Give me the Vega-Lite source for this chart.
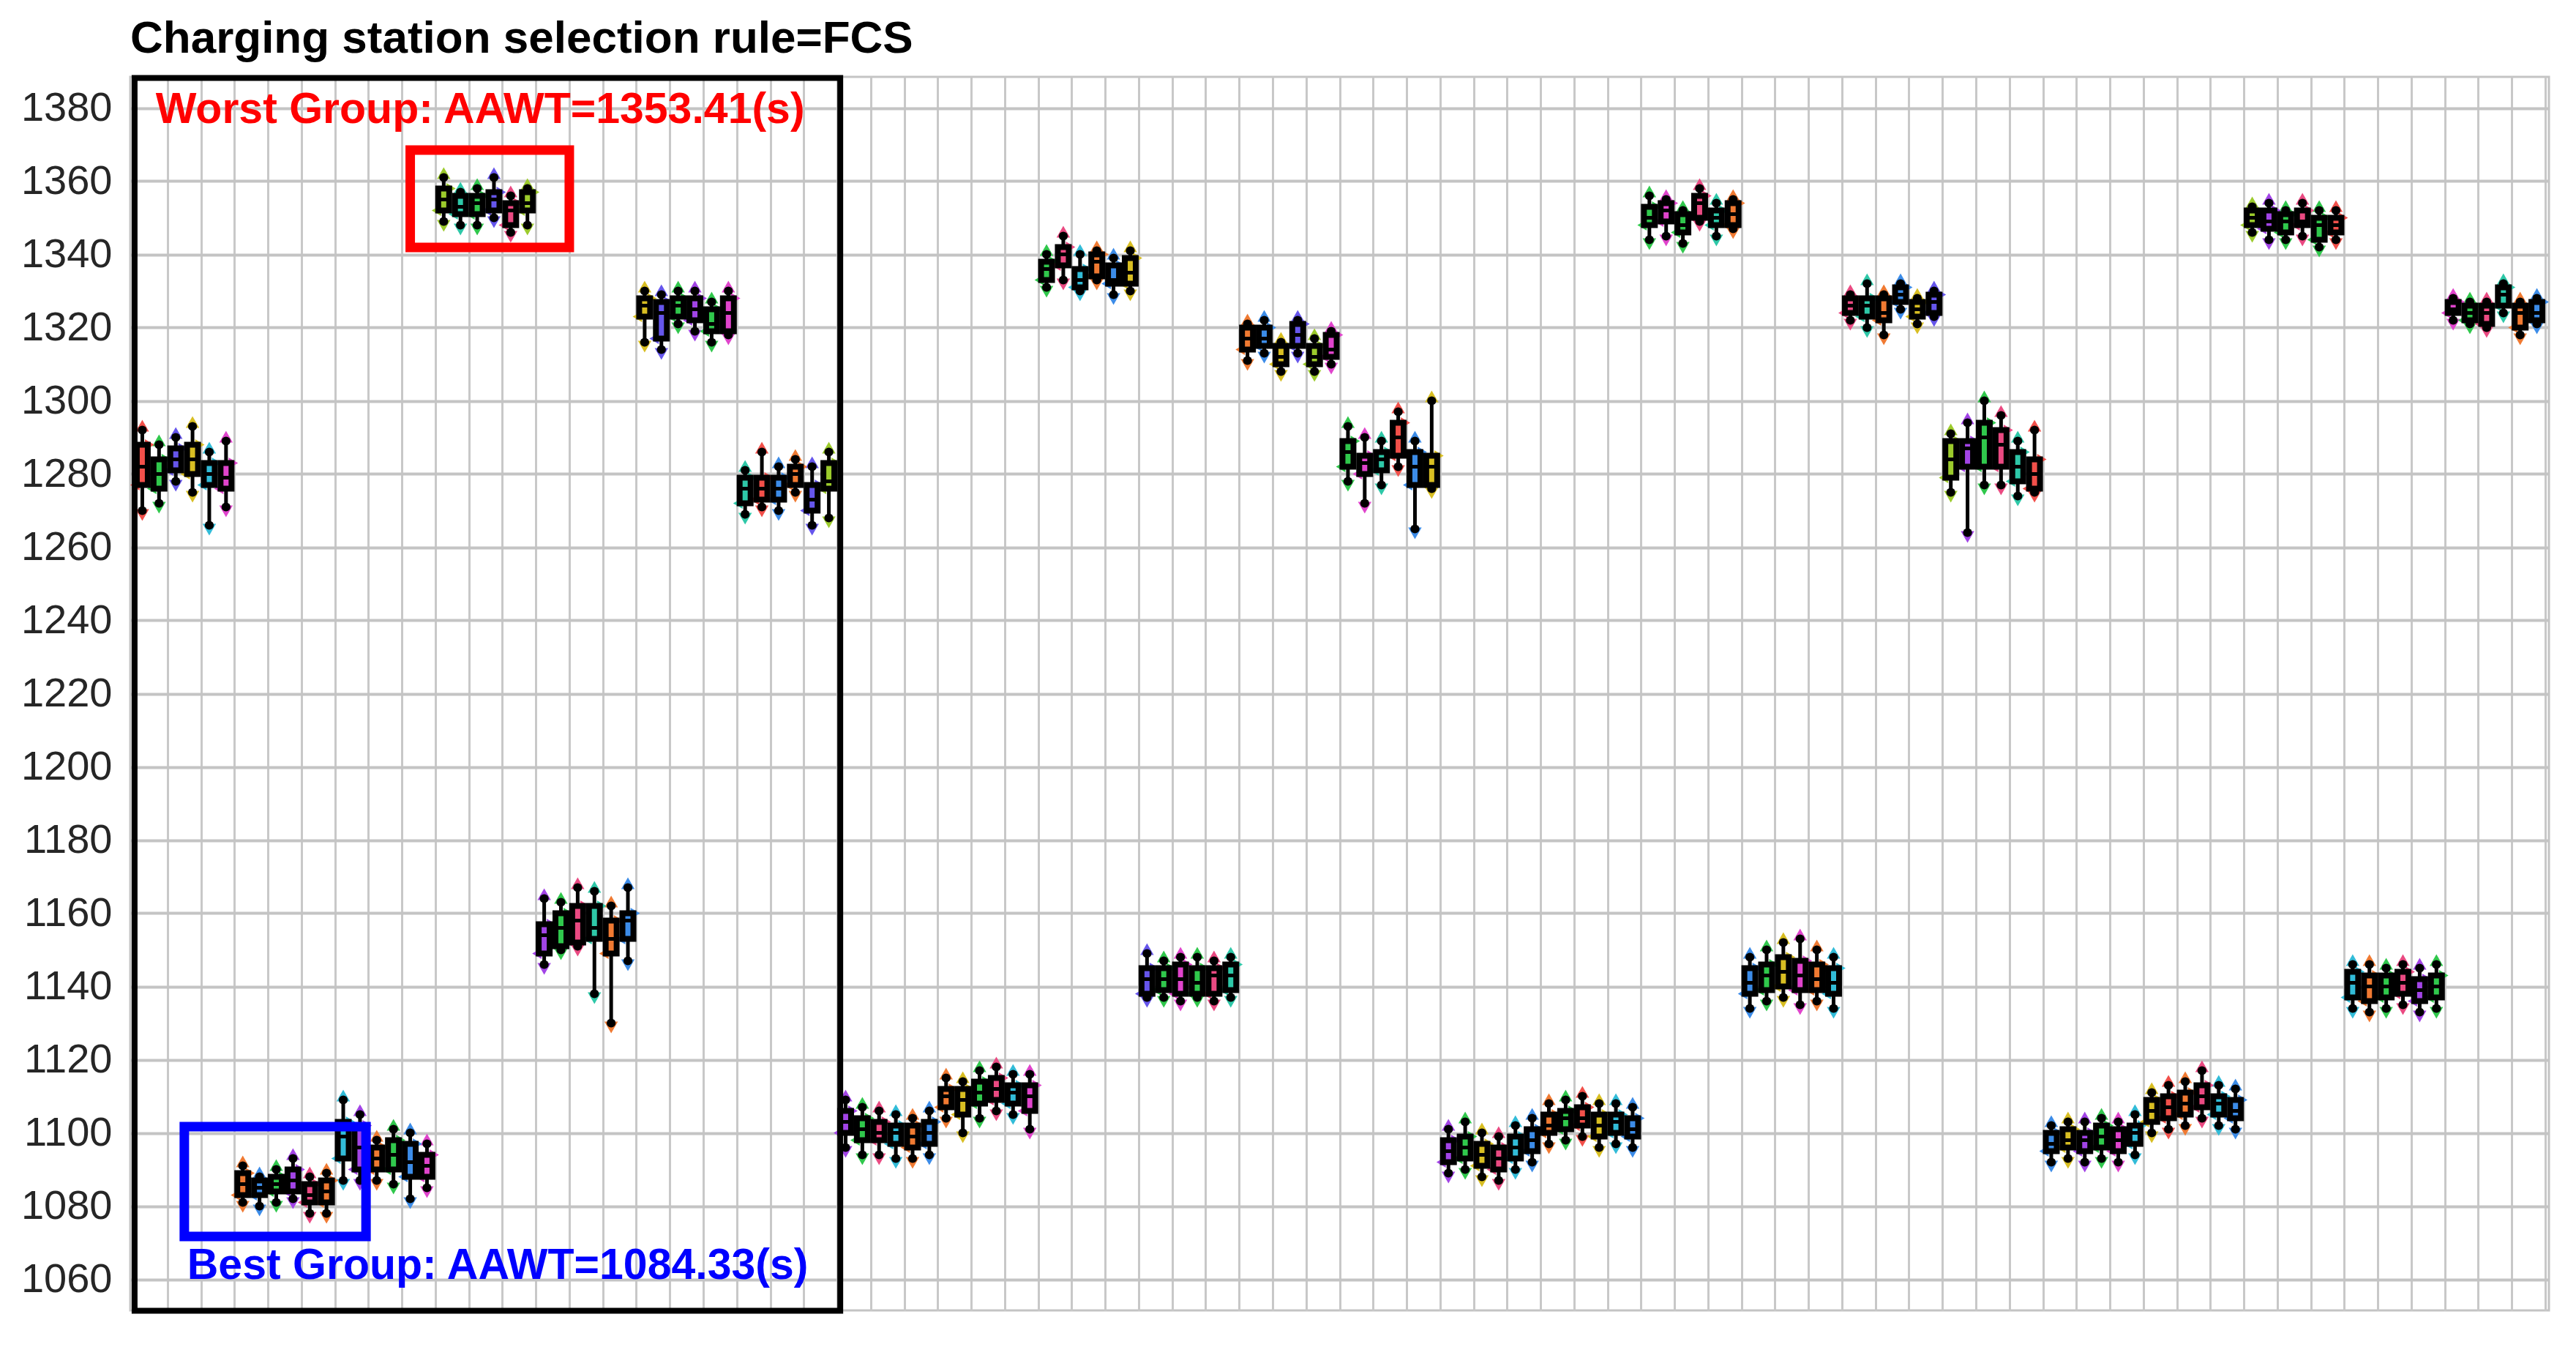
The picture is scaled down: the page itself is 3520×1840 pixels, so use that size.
{
"$schema": "https://vega.github.io/schema/vega-lite/v6.json",
"width": 3305,
"height": 1685,
"autosize": {"type": "none"},
"padding": {"left": 178, "top": 105, "right": 37, "bottom": 50},
"background": "white",
"title": {"text": "Charging station selection rule=FCS", "anchor": "start", "frame": "group", "font": "Liberation Sans", "fontSize": 62, "fontWeight": "bold", "color": "#000000", "baseline": "alphabetic", "offset": -31},
"config": {
  "view": {"stroke": "#c4c4c4", "strokeWidth": 3},
  "axisX": {"grid": true, "gridColor": "#c8c8c8", "gridWidth": 3, "labels": false, "ticks": false, "domain": false},
  "axisY": {"grid": true, "gridColor": "#c4c4c4", "gridWidth": 4, "ticks": false, "tickSize": 0, "domain": false, "labelFont": "Liberation Sans", "labelFontSize": 56, "labelColor": "#262626", "labelPadding": 25, "format": "d"}
},
"datasets": {
"boxes": [
{"col":0,"c":"red","lo":1270,"q1":1277,"md":1282,"q3":1288,"hi":1292},
{"col":1,"c":"green","lo":1272,"q1":1276,"md":1280,"q3":1284,"hi":1288},
{"col":2,"c":"indigo","lo":1278,"q1":1281,"md":1284,"q3":1287,"hi":1290},
{"col":3,"c":"yellow","lo":1275,"q1":1280,"md":1284,"q3":1288,"hi":1293},
{"col":4,"c":"cyan","lo":1266,"q1":1277,"md":1280,"q3":1283,"hi":1286},
{"col":5,"c":"magenta","lo":1271,"q1":1276,"md":1279,"q3":1283,"hi":1289},
{"col":6,"c":"orange","lo":1081,"q1":1083,"md":1086,"q3":1089,"hi":1091},
{"col":7,"c":"blue","lo":1080,"q1":1083,"md":1085,"q3":1087,"hi":1088},
{"col":8,"c":"green","lo":1081,"q1":1084,"md":1086,"q3":1088,"hi":1090},
{"col":9,"c":"purple","lo":1082,"q1":1084,"md":1087,"q3":1090,"hi":1093},
{"col":10,"c":"pink","lo":1078,"q1":1081,"md":1083,"q3":1086,"hi":1088},
{"col":11,"c":"orange","lo":1078,"q1":1081,"md":1084,"q3":1087,"hi":1089},
{"col":12,"c":"cyan","lo":1087,"q1":1093,"md":1099,"q3":1103,"hi":1109},
{"col":13,"c":"purple","lo":1087,"q1":1090,"md":1096,"q3":1102,"hi":1105},
{"col":14,"c":"orange","lo":1087,"q1":1090,"md":1093,"q3":1096,"hi":1098},
{"col":15,"c":"green","lo":1086,"q1":1090,"md":1094,"q3":1098,"hi":1101},
{"col":16,"c":"blue","lo":1082,"q1":1088,"md":1092,"q3":1097,"hi":1100},
{"col":17,"c":"magenta","lo":1085,"q1":1088,"md":1091,"q3":1094,"hi":1097},
{"col":18,"c":"lime","lo":1349,"q1":1352,"md":1355,"q3":1358,"hi":1361},
{"col":19,"c":"teal","lo":1348,"q1":1351,"md":1353,"q3":1356,"hi":1357},
{"col":20,"c":"green","lo":1348,"q1":1351,"md":1354,"q3":1356,"hi":1358},
{"col":21,"c":"indigo","lo":1350,"q1":1352,"md":1355,"q3":1357,"hi":1361},
{"col":22,"c":"pink","lo":1346,"q1":1348,"md":1352,"q3":1354,"hi":1356},
{"col":23,"c":"lime","lo":1348,"q1":1352,"md":1354,"q3":1357,"hi":1358},
{"col":24,"c":"purple","lo":1146,"q1":1149,"md":1154,"q3":1157,"hi":1164},
{"col":25,"c":"green","lo":1150,"q1":1151,"md":1156,"q3":1160,"hi":1163},
{"col":26,"c":"pink","lo":1151,"q1":1152,"md":1158,"q3":1162,"hi":1167},
{"col":27,"c":"teal","lo":1138,"q1":1153,"md":1156,"q3":1162,"hi":1166},
{"col":28,"c":"orange","lo":1130,"q1":1149,"md":1153,"q3":1158,"hi":1162},
{"col":29,"c":"blue","lo":1147,"q1":1153,"md":1158,"q3":1160,"hi":1167},
{"col":30,"c":"yellow","lo":1316,"q1":1323,"md":1326,"q3":1328,"hi":1330},
{"col":31,"c":"indigo","lo":1314,"q1":1317,"md":1324,"q3":1327,"hi":1329},
{"col":32,"c":"green","lo":1321,"q1":1323,"md":1326,"q3":1328,"hi":1330},
{"col":33,"c":"purple","lo":1319,"q1":1322,"md":1325,"q3":1328,"hi":1330},
{"col":34,"c":"green","lo":1316,"q1":1319,"md":1321,"q3":1325,"hi":1327},
{"col":35,"c":"magenta","lo":1318,"q1":1319,"md":1324,"q3":1328,"hi":1330},
{"col":36,"c":"teal","lo":1269,"q1":1272,"md":1276,"q3":1279,"hi":1281},
{"col":37,"c":"red","lo":1271,"q1":1273,"md":1276,"q3":1279,"hi":1286},
{"col":38,"c":"blue","lo":1270,"q1":1273,"md":1276,"q3":1279,"hi":1282},
{"col":39,"c":"orange","lo":1275,"q1":1277,"md":1280,"q3":1282,"hi":1284},
{"col":40,"c":"indigo","lo":1266,"q1":1270,"md":1273,"q3":1277,"hi":1282},
{"col":41,"c":"lime","lo":1268,"q1":1276,"md":1278,"q3":1283,"hi":1286},
{"col":42,"c":"purple","lo":1096,"q1":1100,"md":1103,"q3":1106,"hi":1109},
{"col":43,"c":"green","lo":1094,"q1":1098,"md":1101,"q3":1104,"hi":1107},
{"col":44,"c":"pink","lo":1094,"q1":1098,"md":1100,"q3":1103,"hi":1106},
{"col":45,"c":"cyan","lo":1093,"q1":1097,"md":1100,"q3":1102,"hi":1105},
{"col":46,"c":"orange","lo":1093,"q1":1096,"md":1099,"q3":1102,"hi":1104},
{"col":47,"c":"blue","lo":1094,"q1":1097,"md":1100,"q3":1103,"hi":1106},
{"col":48,"c":"orange","lo":1104,"q1":1107,"md":1110,"q3":1112,"hi":1115},
{"col":49,"c":"yellow","lo":1100,"q1":1105,"md":1109,"q3":1112,"hi":1114},
{"col":50,"c":"green","lo":1104,"q1":1108,"md":1111,"q3":1114,"hi":1117},
{"col":51,"c":"pink","lo":1106,"q1":1109,"md":1112,"q3":1115,"hi":1118},
{"col":52,"c":"cyan","lo":1105,"q1":1108,"md":1111,"q3":1113,"hi":1116},
{"col":53,"c":"magenta","lo":1101,"q1":1106,"md":1110,"q3":1113,"hi":1116},
{"col":54,"c":"green","lo":1331,"q1":1333,"md":1336,"q3":1338,"hi":1340},
{"col":55,"c":"pink","lo":1333,"q1":1337,"md":1340,"q3":1342,"hi":1345},
{"col":56,"c":"cyan","lo":1330,"q1":1331,"md":1333,"q3":1336,"hi":1340},
{"col":57,"c":"orange","lo":1333,"q1":1334,"md":1338,"q3":1340,"hi":1341},
{"col":58,"c":"blue","lo":1329,"q1":1332,"md":1333,"q3":1337,"hi":1339},
{"col":59,"c":"yellow","lo":1330,"q1":1332,"md":1335,"q3":1339,"hi":1341},
{"col":60,"c":"indigo","lo":1137,"q1":1138,"md":1142,"q3":1145,"hi":1149},
{"col":61,"c":"green","lo":1137,"q1":1139,"md":1142,"q3":1145,"hi":1147},
{"col":62,"c":"magenta","lo":1136,"q1":1138,"md":1142,"q3":1146,"hi":1148},
{"col":63,"c":"green","lo":1137,"q1":1138,"md":1141,"q3":1145,"hi":1148},
{"col":64,"c":"pink","lo":1136,"q1":1138,"md":1143,"q3":1145,"hi":1147},
{"col":65,"c":"teal","lo":1137,"q1":1139,"md":1143,"q3":1146,"hi":1148},
{"col":66,"c":"orange","lo":1311,"q1":1314,"md":1317,"q3":1320,"hi":1321},
{"col":67,"c":"blue","lo":1313,"q1":1315,"md":1317,"q3":1320,"hi":1322},
{"col":68,"c":"yellow","lo":1308,"q1":1310,"md":1312,"q3":1315,"hi":1316},
{"col":69,"c":"indigo","lo":1313,"q1":1315,"md":1318,"q3":1321,"hi":1322},
{"col":70,"c":"lime","lo":1308,"q1":1310,"md":1312,"q3":1315,"hi":1317},
{"col":71,"c":"magenta","lo":1310,"q1":1312,"md":1314,"q3":1318,"hi":1319},
{"col":72,"c":"green","lo":1278,"q1":1282,"md":1286,"q3":1289,"hi":1293},
{"col":73,"c":"magenta","lo":1272,"q1":1280,"md":1283,"q3":1285,"hi":1290},
{"col":74,"c":"teal","lo":1277,"q1":1281,"md":1284,"q3":1286,"hi":1289},
{"col":75,"c":"red","lo":1282,"q1":1285,"md":1290,"q3":1294,"hi":1297},
{"col":76,"c":"blue","lo":1265,"q1":1277,"md":1282,"q3":1286,"hi":1289},
{"col":77,"c":"yellow","lo":1276,"q1":1277,"md":1282,"q3":1285,"hi":1300},
{"col":78,"c":"purple","lo":1089,"q1":1092,"md":1095,"q3":1098,"hi":1101},
{"col":79,"c":"green","lo":1090,"q1":1093,"md":1096,"q3":1099,"hi":1103},
{"col":80,"c":"yellow","lo":1088,"q1":1091,"md":1094,"q3":1097,"hi":1100},
{"col":81,"c":"pink","lo":1087,"q1":1090,"md":1093,"q3":1096,"hi":1099},
{"col":82,"c":"cyan","lo":1090,"q1":1093,"md":1096,"q3":1099,"hi":1102},
{"col":83,"c":"blue","lo":1092,"q1":1095,"md":1098,"q3":1101,"hi":1104},
{"col":84,"c":"orange","lo":1097,"q1":1100,"md":1102,"q3":1105,"hi":1108},
{"col":85,"c":"green","lo":1098,"q1":1101,"md":1104,"q3":1106,"hi":1109},
{"col":86,"c":"red","lo":1099,"q1":1102,"md":1104,"q3":1107,"hi":1110},
{"col":87,"c":"yellow","lo":1096,"q1":1099,"md":1102,"q3":1105,"hi":1108},
{"col":88,"c":"cyan","lo":1097,"q1":1100,"md":1103,"q3":1105,"hi":1108},
{"col":89,"c":"blue","lo":1096,"q1":1099,"md":1101,"q3":1104,"hi":1107},
{"col":90,"c":"green","lo":1344,"q1":1348,"md":1350,"q3":1353,"hi":1356},
{"col":91,"c":"magenta","lo":1345,"q1":1349,"md":1352,"q3":1354,"hi":1355},
{"col":92,"c":"green","lo":1343,"q1":1346,"md":1348,"q3":1351,"hi":1352},
{"col":93,"c":"pink","lo":1349,"q1":1350,"md":1354,"q3":1356,"hi":1358},
{"col":94,"c":"teal","lo":1345,"q1":1348,"md":1350,"q3":1352,"hi":1354},
{"col":95,"c":"orange","lo":1347,"q1":1348,"md":1351,"q3":1354,"hi":1355},
{"col":96,"c":"blue","lo":1134,"q1":1138,"md":1141,"q3":1145,"hi":1148},
{"col":97,"c":"green","lo":1136,"q1":1139,"md":1143,"q3":1146,"hi":1150},
{"col":98,"c":"yellow","lo":1137,"q1":1140,"md":1144,"q3":1148,"hi":1152},
{"col":99,"c":"magenta","lo":1135,"q1":1139,"md":1143,"q3":1147,"hi":1153},
{"col":100,"c":"orange","lo":1136,"q1":1139,"md":1142,"q3":1146,"hi":1150},
{"col":101,"c":"cyan","lo":1134,"q1":1138,"md":1141,"q3":1145,"hi":1148},
{"col":102,"c":"pink","lo":1322,"q1":1324,"md":1326,"q3":1328,"hi":1329},
{"col":103,"c":"teal","lo":1320,"q1":1323,"md":1326,"q3":1328,"hi":1332},
{"col":104,"c":"orange","lo":1318,"q1":1322,"md":1324,"q3":1328,"hi":1329},
{"col":105,"c":"blue","lo":1325,"q1":1327,"md":1329,"q3":1331,"hi":1332},
{"col":106,"c":"yellow","lo":1321,"q1":1323,"md":1325,"q3":1327,"hi":1328},
{"col":107,"c":"indigo","lo":1323,"q1":1324,"md":1327,"q3":1329,"hi":1330},
{"col":108,"c":"lime","lo":1275,"q1":1279,"md":1284,"q3":1289,"hi":1291},
{"col":109,"c":"purple","lo":1264,"q1":1282,"md":1287,"q3":1289,"hi":1294},
{"col":110,"c":"green","lo":1277,"q1":1282,"md":1290,"q3":1294,"hi":1300},
{"col":111,"c":"pink","lo":1277,"q1":1282,"md":1288,"q3":1292,"hi":1296},
{"col":112,"c":"teal","lo":1274,"q1":1278,"md":1282,"q3":1286,"hi":1289},
{"col":113,"c":"red","lo":1275,"q1":1276,"md":1280,"q3":1284,"hi":1292},
{"col":114,"c":"blue","lo":1092,"q1":1095,"md":1097,"q3":1100,"hi":1102},
{"col":115,"c":"yellow","lo":1093,"q1":1096,"md":1098,"q3":1101,"hi":1103},
{"col":116,"c":"purple","lo":1092,"q1":1095,"md":1098,"q3":1100,"hi":1103},
{"col":117,"c":"green","lo":1093,"q1":1096,"md":1099,"q3":1102,"hi":1104},
{"col":118,"c":"magenta","lo":1092,"q1":1095,"md":1098,"q3":1101,"hi":1103},
{"col":119,"c":"cyan","lo":1094,"q1":1097,"md":1100,"q3":1102,"hi":1105},
{"col":120,"c":"yellow","lo":1100,"q1":1103,"md":1106,"q3":1109,"hi":1111},
{"col":121,"c":"red","lo":1101,"q1":1104,"md":1107,"q3":1110,"hi":1113},
{"col":122,"c":"orange","lo":1102,"q1":1105,"md":1108,"q3":1111,"hi":1114},
{"col":123,"c":"pink","lo":1104,"q1":1107,"md":1110,"q3":1113,"hi":1117},
{"col":124,"c":"cyan","lo":1102,"q1":1105,"md":1108,"q3":1110,"hi":1113},
{"col":125,"c":"blue","lo":1101,"q1":1104,"md":1106,"q3":1109,"hi":1112},
{"col":126,"c":"lime","lo":1346,"q1":1348,"md":1350,"q3":1352,"hi":1353},
{"col":127,"c":"purple","lo":1344,"q1":1347,"md":1349,"q3":1352,"hi":1354},
{"col":128,"c":"green","lo":1344,"q1":1346,"md":1349,"q3":1351,"hi":1352},
{"col":129,"c":"pink","lo":1345,"q1":1348,"md":1349,"q3":1352,"hi":1354},
{"col":130,"c":"green","lo":1342,"q1":1344,"md":1348,"q3":1350,"hi":1352},
{"col":131,"c":"red","lo":1344,"q1":1346,"md":1348,"q3":1350,"hi":1352},
{"col":132,"c":"cyan","lo":1134,"q1":1137,"md":1141,"q3":1144,"hi":1146},
{"col":133,"c":"orange","lo":1133,"q1":1136,"md":1140,"q3":1143,"hi":1146},
{"col":134,"c":"green","lo":1134,"q1":1137,"md":1140,"q3":1143,"hi":1145},
{"col":135,"c":"pink","lo":1135,"q1":1138,"md":1141,"q3":1144,"hi":1146},
{"col":136,"c":"purple","lo":1133,"q1":1136,"md":1139,"q3":1142,"hi":1145},
{"col":137,"c":"green","lo":1134,"q1":1137,"md":1140,"q3":1143,"hi":1146},
{"col":138,"c":"magenta","lo":1322,"q1":1324,"md":1325,"q3":1327,"hi":1328},
{"col":139,"c":"green","lo":1321,"q1":1322,"md":1324,"q3":1326,"hi":1327},
{"col":140,"c":"pink","lo":1320,"q1":1321,"md":1324,"q3":1326,"hi":1327},
{"col":141,"c":"teal","lo":1324,"q1":1326,"md":1329,"q3":1331,"hi":1332},
{"col":142,"c":"orange","lo":1318,"q1":1320,"md":1324,"q3":1326,"hi":1327},
{"col":143,"c":"blue","lo":1321,"q1":1322,"md":1324,"q3":1327,"hi":1328}
]
},
"layer": [
{
  "data": {"name": "boxes"},
  "mark": {"type": "point", "shape": "triangle-up", "filled": true, "size": 340, "opacity": 1, "yOffset": -6},
  "encoding": {
    "x": {"field": "col", "type": "quantitative", "title": null, "scale": {"domain": [-0.5, 143.5], "nice": false, "zero": false},
      "axis": {"values": [-0.5,0.5,1.5,2.5,3.5,4.5,5.5,6.5,7.5,8.5,9.5,10.5,11.5,12.5,13.5,14.5,15.5,16.5,17.5,18.5,19.5,20.5,21.5,22.5,23.5,24.5,25.5,26.5,27.5,28.5,29.5,30.5,31.5,32.5,33.5,34.5,35.5,36.5,37.5,38.5,39.5,40.5,41.5,42.5,43.5,44.5,45.5,46.5,47.5,48.5,49.5,50.5,51.5,52.5,53.5,54.5,55.5,56.5,57.5,58.5,59.5,60.5,61.5,62.5,63.5,64.5,65.5,66.5,67.5,68.5,69.5,70.5,71.5,72.5,73.5,74.5,75.5,76.5,77.5,78.5,79.5,80.5,81.5,82.5,83.5,84.5,85.5,86.5,87.5,88.5,89.5,90.5,91.5,92.5,93.5,94.5,95.5,96.5,97.5,98.5,99.5,100.5,101.5,102.5,103.5,104.5,105.5,106.5,107.5,108.5,109.5,110.5,111.5,112.5,113.5,114.5,115.5,116.5,117.5,118.5,119.5,120.5,121.5,122.5,123.5,124.5,125.5,126.5,127.5,128.5,129.5,130.5,131.5,132.5,133.5,134.5,135.5,136.5,137.5,138.5,139.5,140.5,141.5,142.5,143.5], "title": null}},
    "y": {"field": "hi", "type": "quantitative", "title": null, "scale": {"domain": [1051.5, 1388.5], "nice": false, "zero": false},
      "axis": {"values": [1060,1080,1100,1120,1140,1160,1180,1200,1220,1240,1260,1280,1300,1320,1340,1360,1380], "title": null}},
    "color": {"field": "c", "type": "nominal", "legend": null,
      "scale": {"domain": ["red","orange","yellow","lime","green","teal","cyan","blue","indigo","purple","magenta","pink"],
                "range": ["#F2504A","#F07A32","#D8BE22","#9CCB2C","#30C84C","#2EC8A8","#32BCD8","#3C8CE8","#6656EC","#A244E6","#E044CC","#EA4A82"]}}
  }
},
{
  "data": {"name": "boxes"},
  "mark": {"type": "point", "shape": "triangle-down", "filled": true, "size": 340, "opacity": 1, "yOffset": 6},
  "encoding": {
    "x": {"field": "col", "type": "quantitative", "title": null},
    "y": {"field": "lo", "type": "quantitative", "title": null},
    "color": {"field": "c", "type": "nominal", "legend": null}
  }
},
{
  "data": {"name": "boxes"},
  "mark": {"type": "point", "shape": "triangle-right", "filled": true, "size": 220, "opacity": 1, "xOffset": 10},
  "encoding": {
    "x": {"field": "col", "type": "quantitative", "title": null},
    "y": {"field": "q3", "type": "quantitative", "title": null},
    "color": {"field": "c", "type": "nominal", "legend": null}
  }
},
{
  "data": {"name": "boxes"},
  "mark": {"type": "point", "shape": "triangle-left", "filled": true, "size": 220, "opacity": 1, "xOffset": -10},
  "encoding": {
    "x": {"field": "col", "type": "quantitative", "title": null},
    "y": {"field": "q1", "type": "quantitative", "title": null},
    "color": {"field": "c", "type": "nominal", "legend": null}
  }
},
{
  "data": {"name": "boxes"},
  "mark": {"type": "rule", "color": "#000000", "strokeWidth": 5},
  "encoding": {
    "x": {"field": "col", "type": "quantitative", "title": null},
    "y": {"field": "lo", "type": "quantitative", "title": null},
    "y2": {"field": "hi"}
  }
},
{
  "data": {"name": "boxes"},
  "mark": {"type": "bar", "size": 15, "stroke": "#000000", "strokeWidth": 8},
  "encoding": {
    "x": {"field": "col", "type": "quantitative", "title": null},
    "y": {"field": "q1", "type": "quantitative", "title": null},
    "y2": {"field": "q3"},
    "color": {"field": "c", "type": "nominal", "legend": null}
  }
},
{
  "data": {"name": "boxes"},
  "mark": {"type": "tick", "orient": "horizontal", "size": 18, "thickness": 5, "color": "#000000", "opacity": 1},
  "encoding": {
    "x": {"field": "col", "type": "quantitative", "title": null},
    "y": {"field": "md", "type": "quantitative", "title": null}
  }
},
{
  "data": {"name": "boxes"},
  "mark": {"type": "point", "shape": "circle", "filled": true, "size": 150, "color": "#000000", "opacity": 1},
  "encoding": {
    "x": {"field": "col", "type": "quantitative", "title": null},
    "y": {"field": "hi", "type": "quantitative", "title": null}
  }
},
{
  "data": {"name": "boxes"},
  "mark": {"type": "point", "shape": "circle", "filled": true, "size": 150, "color": "#000000", "opacity": 1},
  "encoding": {
    "x": {"field": "col", "type": "quantitative", "title": null},
    "y": {"field": "lo", "type": "quantitative", "title": null}
  }
},
{
  "data": {"values": [{"x1": -0.46, "x2": 41.68, "y1": 1051.4, "y2": 1388.2}]},
  "mark": {"type": "rect", "fill": null, "fillOpacity": 0, "stroke": "#000000", "strokeWidth": 8},
  "encoding": {
    "x": {"field": "x1", "type": "quantitative", "title": null},
    "x2": {"field": "x2"},
    "y": {"field": "y1", "type": "quantitative", "title": null},
    "y2": {"field": "y2"}
  }
},
{
  "data": {"values": [{"x1": 16.0, "x2": 25.5, "y1": 1341.9, "y2": 1368.5}]},
  "mark": {"type": "rect", "fill": null, "fillOpacity": 0, "stroke": "#FF0000", "strokeWidth": 13},
  "encoding": {
    "x": {"field": "x1", "type": "quantitative", "title": null},
    "x2": {"field": "x2"},
    "y": {"field": "y1", "type": "quantitative", "title": null},
    "y2": {"field": "y2"}
  }
},
{
  "data": {"values": [{"x1": 2.51, "x2": 13.36, "y1": 1071.7, "y2": 1101.7}]},
  "mark": {"type": "rect", "fill": null, "fillOpacity": 0, "stroke": "#0000FF", "strokeWidth": 13},
  "encoding": {
    "x": {"field": "x1", "type": "quantitative", "title": null},
    "x2": {"field": "x2"},
    "y": {"field": "y1", "type": "quantitative", "title": null},
    "y2": {"field": "y2"}
  }
},
{
  "data": {"values": [{"label": "Worst Group: AAWT=1353.41(s)", "tx": 0.8, "ty": 1375.9}]},
  "mark": {"type": "text", "align": "left", "baseline": "alphabetic", "font": "Liberation Sans", "fontSize": 59, "fontWeight": "bold", "color": "#FF0000"},
  "encoding": {
    "x": {"field": "tx", "type": "quantitative", "title": null},
    "y": {"field": "ty", "type": "quantitative", "title": null},
    "text": {"field": "label", "type": "nominal"}
  }
},
{
  "data": {"values": [{"label": "Best Group: AAWT=1084.33(s)", "tx": 2.68, "ty": 1060.1}]},
  "mark": {"type": "text", "align": "left", "baseline": "alphabetic", "font": "Liberation Sans", "fontSize": 59, "fontWeight": "bold", "color": "#0000FF"},
  "encoding": {
    "x": {"field": "tx", "type": "quantitative", "title": null},
    "y": {"field": "ty", "type": "quantitative", "title": null},
    "text": {"field": "label", "type": "nominal"}
  }
}
]
}
